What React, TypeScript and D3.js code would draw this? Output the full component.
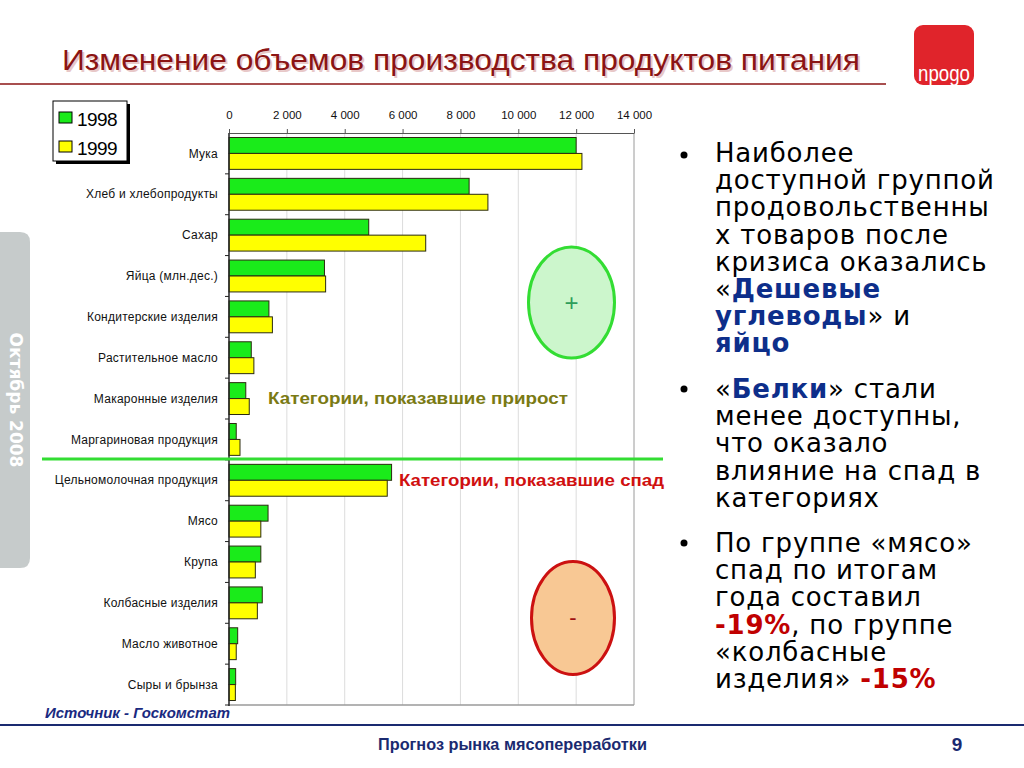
import { useEffect, useRef } from "react";
import * as d3 from "d3";

const categories = [
  "Мука",
  "Хлеб и хлебопродукты",
  "Сахар",
  "Яйца (млн.дес.)",
  "Кондитерские изделия",
  "Растительное масло",
  "Макаронные изделия",
  "Маргариновая продукция",
  "Цельномолочная продукция",
  "Мясо",
  "Крупа",
  "Колбасные изделия",
  "Масло животное",
  "Сыры и брынза",
];
const values1998 = [12000, 8300, 4830, 3300, 1380, 770, 580, 250, 5620, 1350, 1100, 1150, 300, 230];
const values1999 = [12200, 8950, 6800, 3340, 1500, 860, 700, 380, 5470, 1100, 910, 980, 250, 220];
const years = ["1998", "1999"];
const xTicks = [0, 2000, 4000, 6000, 8000, 10000, 12000, 14000];
const colors = ["#1aeb1a", "#ffff00"];

const App = () => {
  const ref = useRef<SVGSVGElement | null>(null);

  useEffect(() => {
    drawChart();
  }, []);

  const drawChart = () => {
    const svg = d3.select(ref.current);
    const g = svg.selectAll("g.chart").data([null]).join("g").attr("class", "chart");
    g.selectAll("*").remove();

    const x = d3.scaleLinear().domain([0, 14000]).range([229, 634]);
    const y = d3.scaleBand<string>().domain(categories).range([133, 705]).paddingInner(0.22).paddingOuter(0.11);
    const ySub = d3.scaleBand<string>().domain(years).range([0, y.bandwidth()]);
    const step = y.step();

    // сетка
    g.append("g")
      .selectAll("line")
      .data(xTicks.slice(1, -1))
      .join("line")
      .attr("x1", (d) => x(d))
      .attr("x2", (d) => x(d))
      .attr("y1", 133)
      .attr("y2", 705)
      .attr("stroke", "#dcdcdc");

    // рамка справа и снизу
    g.append("line").attr("x1", x(14000)).attr("x2", x(14000)).attr("y1", 133).attr("y2", 705).attr("stroke", "#9a9a9a");
    g.append("line").attr("x1", x(0)).attr("x2", x(14000)).attr("y1", 705).attr("y2", 705).attr("stroke", "#9a9a9a").attr("stroke-width", 1.5);

    // бары
    const rows = categories.map((c, i) => ({ c, vals: [values1998[i], values1999[i]] }));
    const rowG = g
      .append("g")
      .selectAll("g")
      .data(rows)
      .join("g")
      .attr("transform", (d) => `translate(0,${y(d.c)})`);
    rowG
      .selectAll("rect")
      .data((d) => d.vals.map((v, k) => ({ v, k })))
      .join("rect")
      .attr("x", x(0))
      .attr("y", (d) => ySub(years[d.k])!)
      .attr("width", (d) => x(d.v) - x(0))
      .attr("height", ySub.bandwidth())
      .attr("fill", (d) => colors[d.k])
      .attr("stroke", "#2b2b10")
      .attr("stroke-width", 1);

    // верхняя ось
    const top = g
      .append("g")
      .attr("transform", "translate(0,133)")
      .call(
        d3
          .axisTop(x)
          .tickValues(xTicks)
          .tickSize(4)
          .tickSizeOuter(0)
          .tickPadding(10)
          .tickFormat((d) => d3.format(",")(d as number).replace(/,/g, " "))
      );
    top.select(".domain").attr("stroke", "#555");
    top.selectAll(".tick line").attr("stroke", "#555");
    top.selectAll("text").attr("font-family", "Liberation Sans, Arial, sans-serif").attr("font-size", 11.5).attr("fill", "#111");

    // левая ось
    g.append("line").attr("x1", x(0)).attr("x2", x(0)).attr("y1", 133).attr("y2", 706).attr("stroke", "#222").attr("stroke-width", 1.5);
    g.append("g")
      .selectAll("line")
      .data(d3.range(1, categories.length + 1))
      .join("line")
      .attr("x1", x(0) - 4)
      .attr("x2", x(0))
      .attr("y1", (i) => 133 + i * step)
      .attr("y2", (i) => 133 + i * step)
      .attr("stroke", "#222");
    g.append("g")
      .selectAll("text")
      .data(categories)
      .join("text")
      .attr("x", 218)
      .attr("y", (d) => y(d)! + y.bandwidth() / 2)
      .attr("dy", "0.35em")
      .attr("text-anchor", "end")
      .attr("font-family", "Liberation Sans, Arial, sans-serif")
      .attr("font-size", 12)
      .attr("letter-spacing", 0.25)
      .attr("fill", "#111")
      .text((d) => d);
  };

  const sans = "Liberation Sans, Arial, sans-serif";
  const verdana = "DejaVu Sans, Verdana, sans-serif";
  const bx = 715;
  const lh = 27.2;
  const navy = "#0d2e8a";
  const red = "#c00000";

  return (
    <div style={{ position: "absolute", left: 0, top: 0, width: 1024, height: 768, background: "#fff" }}>
      <svg ref={ref} width={1024} height={768}>
        {/* заголовок */}
        <text x={64} y={72} fontFamily={sans} fontSize={29} fill="#e8c8c8" textLength={798} lengthAdjust="spacingAndGlyphs">
          Изменение объемов производства продуктов питания
        </text>
        <text x={62} y={70} fontFamily={sans} fontSize={29} fill="#8b1414" textLength={798} lengthAdjust="spacingAndGlyphs">
          Изменение объемов производства продуктов питания
        </text>
        <line x1={0} x2={886} y1={84} y2={84} stroke="#8b1414" strokeWidth={1.5} />

        {/* логотип */}
        <rect x={914} y={25} width={60} height={60} rx={9} fill="#e0242b" />
        <text x={944} y={81} textAnchor="middle" fontFamily={sans} fontSize={22} fill="#fff" textLength={52} lengthAdjust="spacingAndGlyphs">
          npogo
        </text>

        {/* боковая вкладка */}
        <path d="M0,232 H20 Q30,232 30,242 V558 Q30,568 20,568 H0 Z" fill="#c6cbcb" />
        <text
          transform="translate(10,400) rotate(90)"
          textAnchor="middle"
          fontFamily="DejaVu Sans, Verdana, sans-serif"
          fontWeight="bold"
          fontSize={17}
          fill="#fff"
        >
          Октябрь 2008
        </text>

        {/* легенда */}
        <rect x={56} y={104} width={74} height={60} fill="#000" />
        <rect x={53} y={101} width={74} height={60} fill="#fff" stroke="#000" strokeWidth={1} />
        <rect x={59} y={112} width={13} height={11} fill={colors[0]} stroke="#000" />
        <text x={77} y={126} fontFamily={sans} fontSize={19} letterSpacing={-0.6} fill="#000">
          {years[0]}
        </text>
        <rect x={59} y={141} width={13} height={11} fill={colors[1]} stroke="#000" />
        <text x={77} y={155} fontFamily={sans} fontSize={19} letterSpacing={-0.6} fill="#000">
          {years[1]}
        </text>

        <g className="chart" />

        {/* разделитель */}
        <line x1={42} x2={663} y1={459} y2={459} stroke="#33dd33" strokeWidth={3} />
        <text x={268} y={404} fontFamily={sans} fontWeight="bold" fontSize={16.5} fill="#7a7a14" textLength={300} lengthAdjust="spacingAndGlyphs">
          Категории, показавшие прирост
        </text>
        <text x={399} y={486} fontFamily={sans} fontWeight="bold" fontSize={16.5} fill="#d01010" textLength={265} lengthAdjust="spacingAndGlyphs">
          Категории, показавшие спад
        </text>

        <ellipse cx={571.5} cy={302.5} rx={43} ry={55.5} fill="#ccf6cc" stroke="#33dd33" strokeWidth={3} />
        <text x={571.5} y={311} textAnchor="middle" fontFamily={sans} fontSize={24} fill="#2e9e5a">
          +
        </text>
        <ellipse cx={573} cy={618} rx={41.5} ry={56.5} fill="#f8c894" stroke="#cc1111" strokeWidth={3} />
        <text x={573} y={625} textAnchor="middle" fontFamily={sans} fontSize={22} fill="#a01010">
          -
        </text>

        {/* текст справа */}
        <g fontFamily={verdana} fontSize={26} letterSpacing={0.8} fill="#000">
          <circle cx={684} cy={155} r={3.5} fill="#000" />
          <text x={bx} y={162}>Наиболее</text>
          <text x={bx} y={162 + lh}>доступной группой</text>
          <text x={bx} y={162 + lh * 2}>продовольственны</text>
          <text x={bx} y={162 + lh * 3}>х товаров после</text>
          <text x={bx} y={162 + lh * 4}>кризиса оказались</text>
          <text x={bx} y={162 + lh * 5}>
            «<tspan fill={navy} fontWeight="bold">Дешевые</tspan>
          </text>
          <text x={bx} y={162 + lh * 6}>
            <tspan fill={navy} fontWeight="bold">углеводы</tspan>» и
          </text>
          <text x={bx} y={162 + lh * 7}>
            <tspan fill={navy} fontWeight="bold">яйцо</tspan>
          </text>

          <circle cx={684} cy={389} r={3.5} fill="#000" />
          <text x={bx} y={398}>
            «<tspan fill={navy} fontWeight="bold">Белки</tspan>» стали
          </text>
          <text x={bx} y={398 + lh}>менее доступны,</text>
          <text x={bx} y={398 + lh * 2}>что оказало</text>
          <text x={bx} y={398 + lh * 3}>влияние на спад в</text>
          <text x={bx} y={398 + lh * 4}>категориях</text>

          <circle cx={684} cy={543} r={3.5} fill="#000" />
          <text x={bx} y={552}>По группе «мясо»</text>
          <text x={bx} y={552 + lh}>спад по итогам</text>
          <text x={bx} y={552 + lh * 2}>года составил</text>
          <text x={bx} y={552 + lh * 3}>
            <tspan fill={red} fontWeight="bold">-19%</tspan>, по группе
          </text>
          <text x={bx} y={552 + lh * 4}>«колбасные</text>
          <text x={bx} y={552 + lh * 5}>
            изделия» <tspan fill={red} fontWeight="bold">-15%</tspan>
          </text>
        </g>

        {/* подвал */}
        <text x={45} y={718} fontFamily={sans} fontStyle="italic" fontWeight="bold" fontSize={14.5} fill="#1a2a80" textLength={185} lengthAdjust="spacingAndGlyphs">
          Источник - Госкомстат
        </text>
        <line x1={0} x2={1024} y1={725} y2={725} stroke="#1a2a70" strokeWidth={2} />
        <text x={378} y={750} fontFamily={sans} fontWeight="bold" fontSize={17} fill="#1a2a70" textLength={269} lengthAdjust="spacingAndGlyphs">
          Прогноз рынка мясопереработки
        </text>
        <text x={957} y={751} textAnchor="middle" fontFamily={sans} fontWeight="bold" fontSize={19} fill="#1a2a70">
          9
        </text>
      </svg>
    </div>
  );
};

export default App;
